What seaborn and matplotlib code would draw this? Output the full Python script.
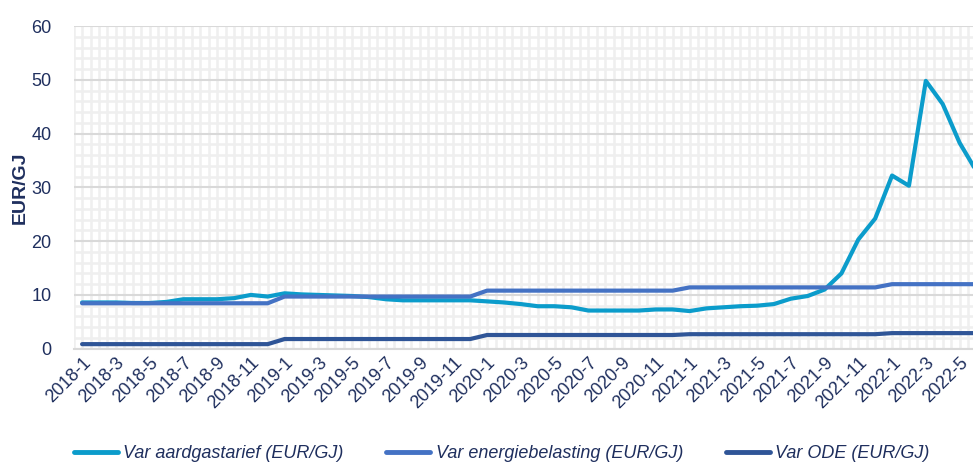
import numpy as np
import pandas as pd
import matplotlib
matplotlib.use("Agg")
import matplotlib.pyplot as plt
from matplotlib.ticker import MultipleLocator
from matplotlib.lines import Line2D
import seaborn as sns

months = [f"{y}-{m}" for y in range(2018, 2023) for m in range(1, 13)][:54]

aardgas = [8.6, 8.6, 8.6, 8.5, 8.5, 8.7, 9.2, 9.2, 9.2, 9.4, 10.0, 9.7,
           10.3, 10.1, 10.0, 9.9, 9.8, 9.6, 9.2, 9.0, 9.0, 9.0, 9.0, 9.0,
           8.8, 8.6, 8.3, 7.9, 7.9, 7.7, 7.1, 7.1, 7.1, 7.1, 7.3, 7.3,
           7.0, 7.5, 7.7, 7.9, 8.0, 8.3, 9.3, 9.8, 11.0, 14.0, 20.3, 24.2,
           32.2, 30.3, 49.8, 45.5, 38.3, 33.0]
energie = [8.45] * 12 + [9.7] * 12 + [10.8] * 12 + [11.4] * 12 + [12.0] * 6
ode = [0.85] * 12 + [1.8] * 12 + [2.55] * 12 + [2.7] * 12 + [2.9] * 6

series_names = ["Var aardgastarief (EUR/GJ)", "Var energiebelasting (EUR/GJ)", "Var ODE (EUR/GJ)"]
colors = ["#0B9CCB", "#4472C4", "#2F5597"]

df = pd.concat([
    pd.DataFrame({"idx": np.arange(len(months)), "month": months, "value": vals, "series": name})
    for name, vals in zip(series_names, [aardgas, energie, ode])
])

sns.set_theme(style="white")
plt.rcParams['font.family'] = ['Liberation Sans', 'DejaVu Sans']
text_color = "#1F2F5E"

fig = plt.figure(figsize=(9.73, 4.62), dpi=100)
ax = fig.add_axes([0.0757, 0.2452, 0.9365, 0.6985])

sns.lineplot(data=df, x="idx", y="value", hue="series", palette=colors,
             hue_order=series_names, linewidth=3.0, ax=ax, legend=False,
             solid_capstyle="round", zorder=3)

ax.set_xlim(-0.5, len(months) - 0.5)
ax.set_ylim(0, 60)
ax.set_xticks(np.arange(0, len(months), 2))
ax.set_xticklabels(months[::2], rotation=45, ha="right", rotation_mode="anchor",
                   fontsize=13, color=text_color)
ax.xaxis.set_minor_locator(MultipleLocator(0.5))
ax.yaxis.set_major_locator(MultipleLocator(10))
ax.yaxis.set_minor_locator(MultipleLocator(2))
ax.tick_params(axis="y", labelsize=13, labelcolor=text_color, length=0, pad=16)
ax.tick_params(axis="x", length=0, pad=4, which="both")
ax.tick_params(axis="y", which="minor", length=0)

ax.grid(True, axis="x", which="both", color="#EFEFEF", linewidth=1.8, zorder=0)
ax.grid(True, axis="y", which="minor", color="#EFEFEF", linewidth=1.8, zorder=0)
ax.grid(True, axis="y", which="major", color="#D9D9D9", linewidth=1.5, zorder=1)
ax.set_axisbelow(True)

for s in ["top", "right", "left"]:
    ax.spines[s].set_visible(False)
ax.spines["bottom"].set_color("#D9D9D9")
ax.spines["bottom"].set_linewidth(1.5)

ax.set_xlabel("")
ax.set_ylabel("EUR/GJ", fontsize=14, fontweight="bold", color=text_color)
ax.yaxis.set_label_coords(-0.049, 0.5)

handles = [Line2D([0], [0], color=c, linewidth=3.5, solid_capstyle="round") for c in colors]
leg = fig.legend(handles, series_names, loc="lower center", bbox_to_anchor=(0.5155, -0.036),
                 ncol=3, frameon=False, handlelength=2.45, columnspacing=2.35,
                 handletextpad=0.3, prop={"style": "italic", "size": 13})
for t in leg.get_texts():
    t.set_color(text_color)

fig.savefig("out.png", dpi=100)
